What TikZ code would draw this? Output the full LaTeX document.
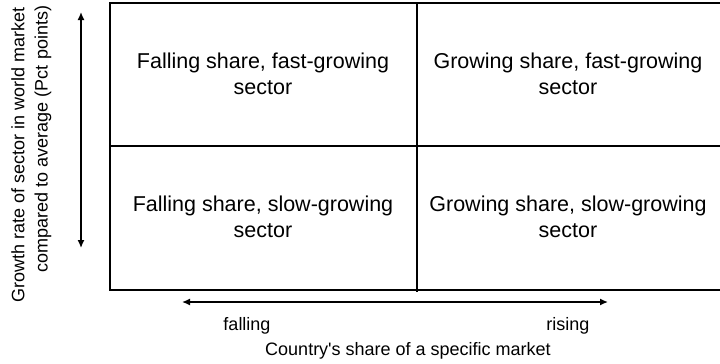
\documentclass[tikz,border=0pt]{standalone}
\usepackage{fontspec}
\setmainfont{Liberation Sans}
\newfontfamily\plainarial{Liberation Sans}
\usetikzlibrary{arrows.meta}
\begin{document}
\begin{tikzpicture}[x=1pt,y=-1pt,
  frame/.style={line width=2pt},
  axisarrow/.style={line width=1.4pt,{Latex[length=8pt,width=7pt]}-{Latex[length=8pt,width=7pt]}},
  celltext/.style={align=center,font=\fontsize{21.5}{26}\selectfont,inner sep=0pt},
  axistext/.style={font=\plainarial\fontsize{18}{22}\selectfont,inner sep=0pt}]
\useasboundingbox (0,0) rectangle (720,364);
% frame (open on the right, as in the reference)
\coordinate (tr) at (722,3);
\coordinate (tl) at (110,3);
\coordinate (bl) at (110,290);
\coordinate (br) at (722,290);
\coordinate (ml) at (110,146);
\coordinate (mr) at (722,146);
\coordinate (mt) at (416.5,3);
\coordinate (mb) at (416.5,292);
\draw[frame] (tr) -- (tl) -- (bl) -- (br);
\draw[frame] (ml) -- (mr);
\draw[frame] (mt) -- (mb);
% cells
\node[celltext] (q1) at (263,74) {Falling share, fast-growing\\sector};
\node[celltext] (q2) at (568,74) {Growing share, fast-growing\\sector};
\node[celltext] (q3) at (263,217) {Falling share, slow-growing\\sector};
\node[celltext] (q4) at (568,217) {Growing share, slow-growing\\sector};
% vertical axis
\coordinate (vtop) at (81,12);
\coordinate (vbot) at (81,248);
\draw[axisarrow] (vbot) -- (vtop);
\node[axistext,rotate=90] (ylab1) at (18,155) {Growth rate of sector in world market};
\node[axistext,rotate=90] (ylab2) at (43,139) {compared to average (Pct points)};
% horizontal axis
\coordinate (hl) at (182,302);
\coordinate (hr) at (608,302);
\draw[axisarrow] (hl) -- (hr);
\node[axistext] (fall) at (247,326) {falling};
\node[axistext] (rise) at (568,326) {rising};
\node[axistext] (xlab) at (408,351) {Country's share of a specific market};
\end{tikzpicture}
\end{document}
